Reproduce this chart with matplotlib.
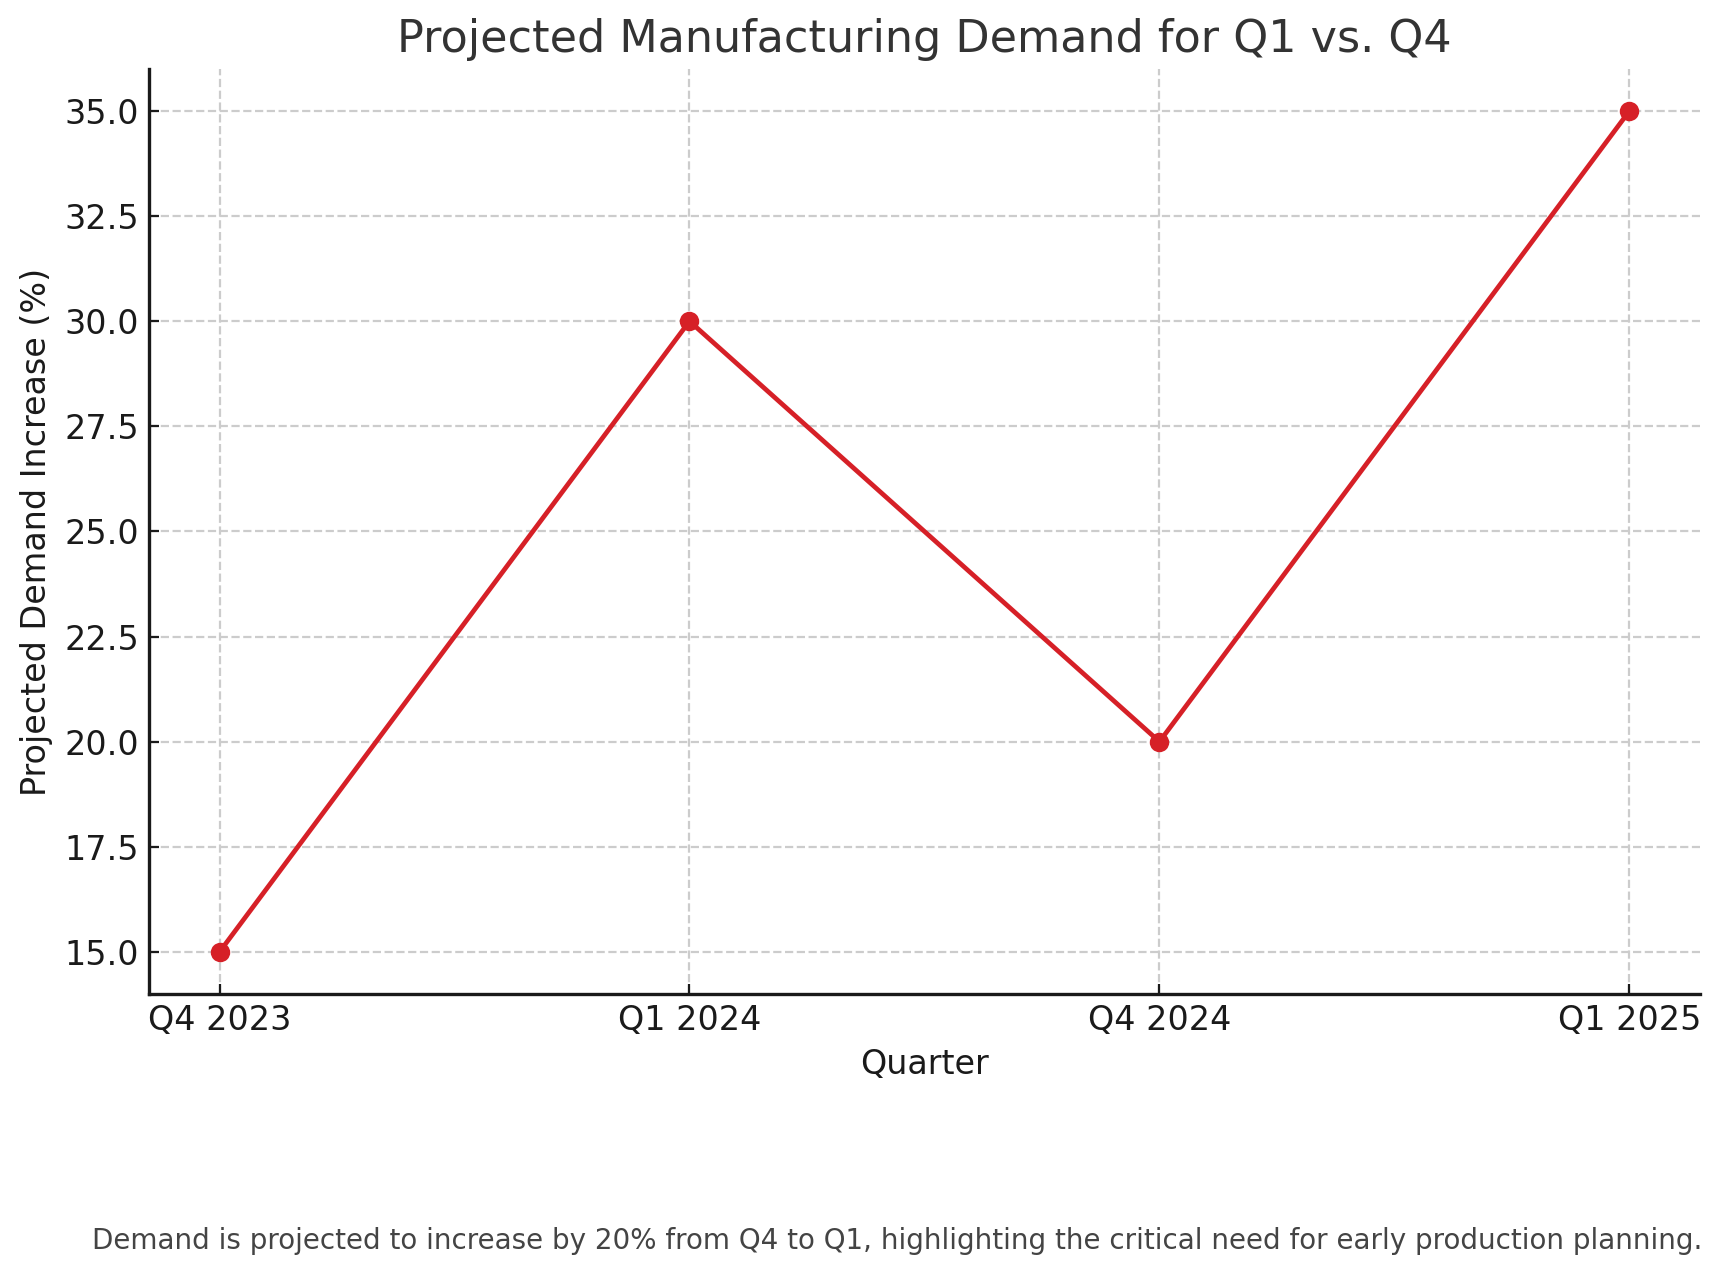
import matplotlib
matplotlib.use("Agg")
import matplotlib.pyplot as plt

quarters = ["Q4 2023", "Q1 2024", "Q4 2024", "Q1 2025"]
demand_increase = [15, 30, 20, 35]

title = "Projected Manufacturing Demand for Q1 vs. Q4"
caption = ("Demand is projected to increase by 20% from Q4 to Q1, highlighting "
           "the critical need for early production planning.")

plt.rcParams['font.family'] = ['DejaVu Sans']

fig = plt.figure(figsize=(1723/200, 1272/200), dpi=200)
ax = fig.add_axes([0.0865, 0.2186, 0.9001, 0.7272])

ax.plot(quarters, demand_increase, color='#d62027', linewidth=1.7, marker='o', markersize=6)

ax.set_title(title, fontsize=16, color='#333333')
ax.set_xlabel("Quarter", fontsize=12, color='#1a1a1a')
ax.set_ylabel("Projected Demand Increase (%)", fontsize=12, color='#1a1a1a')
ax.tick_params(labelsize=12, colors='#1a1a1a', direction='in')
ax.grid(True, linestyle='--', color='#cccccc', linewidth=0.8)
ax.spines['top'].set_visible(False)
ax.spines['right'].set_visible(False)
for s in ['left', 'bottom']:
    ax.spines[s].set_color('#1a1a1a')
    ax.spines[s].set_linewidth(1.2)
ax.yaxis.set_major_formatter(matplotlib.ticker.FormatStrFormatter('%.1f'))

fig.text(0.988, 0.0245, caption, ha='right', va='center', fontsize=10, color='#444444')

fig.savefig("out.png", dpi=200)
